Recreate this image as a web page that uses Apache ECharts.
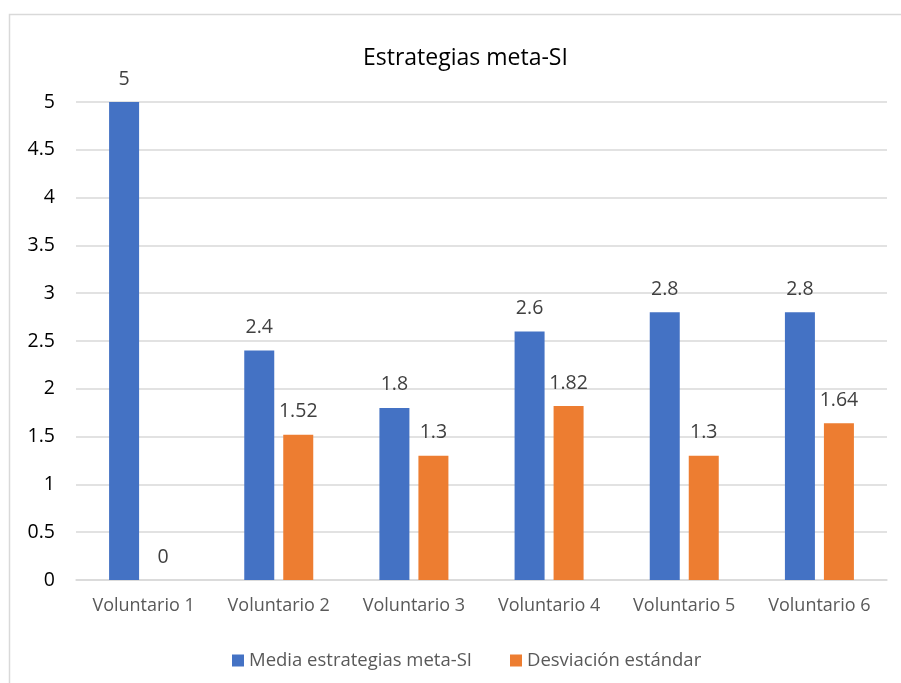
<!DOCTYPE html>
<html><head><meta charset="utf-8">
<script src="https://cdn.jsdelivr.net/npm/echarts@6/dist/echarts.min.js"></script>
<style>html,body{margin:0;padding:0;background:#fff}#c{width:901px;height:683px}</style>
</head><body><div id="c"></div>
<script>
const categories = ["Voluntario 1","Voluntario 2","Voluntario 3","Voluntario 4","Voluntario 5","Voluntario 6"];
const mediaValues = [5, 2.4, 1.8, 2.6, 2.8, 2.8];
const desviacionValues = [0, 1.52, 1.3, 1.82, 1.3, 1.64];
const seriesNames = ["Media estrategias meta-SI","Desviación estándar"];
const yTicks = [0,0.5,1,1.5,2,2.5,3,3.5,4,4.5,5];

const font = "Open Sans, Liberation Sans, sans-serif";
const chart = echarts.init(document.getElementById('c'), null, {renderer:'canvas'});
chart.setOption({
  animation:false,
  title:{text:"Estrategias meta-SI", left:358, top:42, textStyle:{fontFamily:font,fontWeight:'normal',fontSize:23,color:'#000'}},
  graphic:[{type:'rect', shape:{x:9.5,y:14.5,width:905,height:700}, style:{fill:'none',stroke:'#d9d9d9',lineWidth:1.5}, z:-1}],
  legend:{top:646, left:227, itemWidth:12, itemHeight:12, itemGap:38, icon:'rect',
    textStyle:{fontFamily:font,fontSize:18.5,color:'#595959'}, data:seriesNames},
  grid:{left:76, right:14, top:102, bottom:103},
  xAxis:{type:'category', data:categories, axisTick:{show:false},
    axisLine:{lineStyle:{color:'#d9d9d9',width:1.5}},
    axisLabel:{fontFamily:font,fontSize:18,color:'#595959',margin:17}},
  yAxis:{type:'value', min:0, max:5, interval:0.5,
    axisLabel:{fontFamily:font,fontSize:19.5,color:'#000',margin:21,
      formatter:v=>String(yTicks.find(t=>Math.abs(t-v)<1e-9) ?? v)},
    splitLine:{lineStyle:{color:'#d9d9d9',width:1.5}}, axisLine:{show:false}, axisTick:{show:false}},
  series:[
    {name:seriesNames[0], type:'bar', data:mediaValues, barWidth:30, barGap:'30%',
      itemStyle:{color:'#4472C4'},
      label:{show:true,position:'top',distance:13,fontFamily:font,fontSize:19.5,color:'#404040'}},
    {name:seriesNames[1], type:'bar', data:desviacionValues, barWidth:30,
      itemStyle:{color:'#ED7D31'},
      label:{show:true,position:'top',distance:13,fontFamily:font,fontSize:19.5,color:'#404040'}}
  ]
});
</script></body></html>
